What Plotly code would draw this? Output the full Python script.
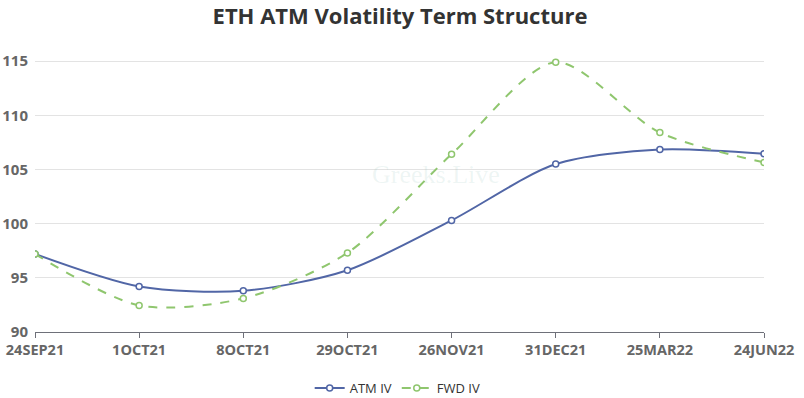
import plotly.graph_objects as go

categories = ["24SEP21", "1OCT21", "8OCT21", "29OCT21", "26NOV21", "31DEC21", "25MAR22", "24JUN22"]
atm_iv = [97.2, 94.2, 93.8, 95.7, 100.3, 105.5, 106.85, 106.45]
fwd_iv = [97.2, 92.45, 93.1, 97.3, 106.4, 114.9, 108.4, 105.65]
y_ticks = [90, 95, 100, 105, 110, 115]

BLUE = "#5166a6"
GREEN = "#8fc66e"

W, H = 804, 398

fig = go.Figure()
fig.add_trace(go.Scatter(
    x=categories, y=atm_iv, name="ATM IV", mode="lines+markers",
    line=dict(color=BLUE, width=2, shape="spline", smoothing=0.8),
    marker=dict(symbol="circle", size=6, color="white", line=dict(color=BLUE, width=1.5)),
))
fig.add_trace(go.Scatter(
    x=categories, y=fwd_iv, name="FWD IV", mode="lines+markers",
    line=dict(color=GREEN, width=2, shape="spline", smoothing=0.8, dash="dash"),
    marker=dict(symbol="circle", size=6, color="white", line=dict(color=GREEN, width=1.5)),
))

fig.add_annotation(
    x=0.55, y=0.53, xref="paper", yref="paper", text="Greeks.Live", showarrow=False,
    font=dict(family="Liberation Serif", size=26, color="rgba(150,195,185,0.16)"),
)

fig.update_layout(
    width=W, height=H,
    paper_bgcolor="white", plot_bgcolor="white",
    margin=dict(l=35, r=40, t=34, b=66, autoexpand=False),
    title=dict(text="<b>ETH ATM Volatility Term Structure</b>", x=400 / W, xanchor="center",
               xref="container", yref="container",
               y=1 - 16 / H, yanchor="middle",
               font=dict(family="Open Sans", size=22, color="#333333")),
    font=dict(family="Open Sans"),
    xaxis=dict(
        type="category", range=[0, len(categories) - 1], automargin=False,
        showgrid=False, showline=True, linecolor="#6e7079", linewidth=1,
        ticks="outside", ticklen=5, tickcolor="#6e7079",
        tickfont=dict(family="Open Sans", size=14.5, color="#666666", weight="bold"),
        zeroline=False,
    ),
    yaxis=dict(
        range=[90, 117.5], tickvals=y_ticks, automargin=False,
        showgrid=True, gridcolor="#e3e3e3", gridwidth=1,
        showline=False, zeroline=False, ticks="", ticklabelstandoff=6,
        tickfont=dict(family="Open Sans", size=15, color="#666666", weight="bold"),
    ),
    legend=dict(orientation="h", x=400 / W, xanchor="center",
                yref="container", y=(H - 388) / H, yanchor="middle",
                font=dict(family="Open Sans", size=13, color="#333333"),
                itemwidth=30),
    showlegend=True,
)

fig.write_html("out.html", config={"displayModeBar": False},
               post_script="document.body.style.margin='0';")
